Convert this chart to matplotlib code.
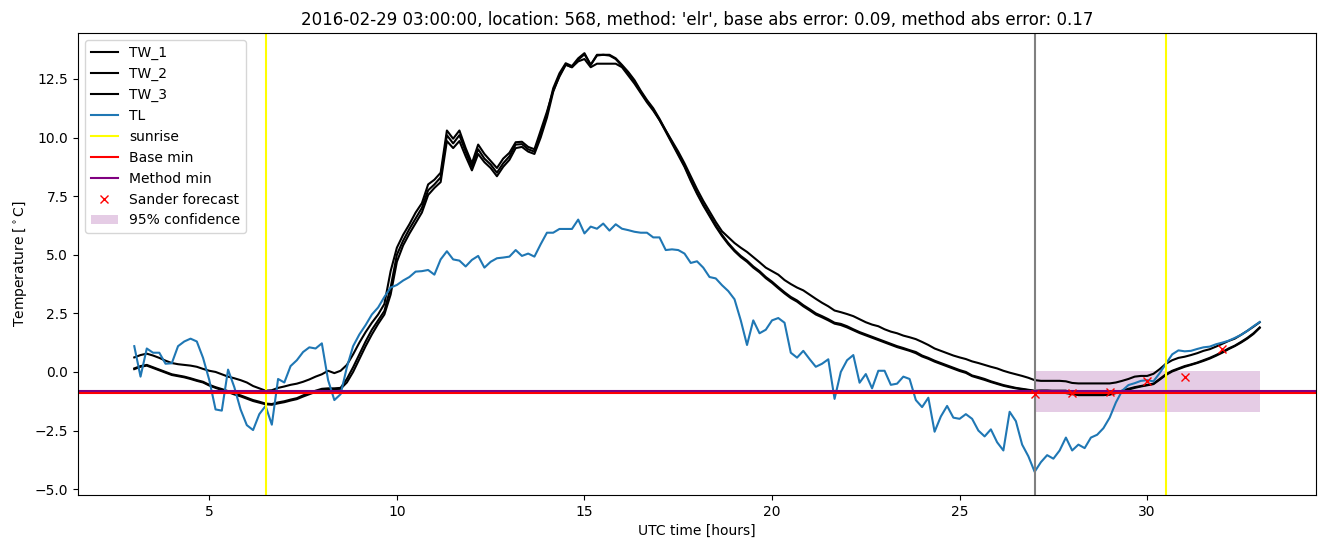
import numpy as np
import matplotlib
matplotlib.use("Agg")
import matplotlib.pyplot as plt

# ---- data (10-minute samples from 03:00 to 33:00 UTC hours) ----
start_hour = 3.0
step_hours = 1.0 / 6.0

TW_1 = [0.62, 0.72, 0.78, 0.7, 0.6, 0.48, 0.38, 0.33, 0.3, 0.27, 0.22, 0.13, 0.05, 0.0, -0.1, -0.2, -0.27, -0.35, -0.45, -0.6,
        -0.7, -0.8, -0.78, -0.68, -0.62, -0.55, -0.5, -0.42, -0.32, -0.2, -0.1, 0.05, -0.05, 0.05,
        0.3, 0.75, 1.25, 1.7, 2.1, 2.45, 2.9, 4.3, 5.3, 5.85, 6.3, 6.8, 7.2, 8.0, 8.2, 8.5,
        10.3, 9.95, 10.3, 9.55, 8.9, 9.7, 9.3, 9.0, 8.7, 9.1, 9.35, 9.8, 9.82, 9.6, 9.5, 10.3, 11.1, 12.0, 12.6, 13.1,
        13.0, 13.25, 13.35, 13.0, 13.15, 13.15, 13.15, 13.15, 13.0, 12.65, 12.3, 11.9, 11.5, 11.15, 10.75, 10.3, 9.85, 9.4, 8.9, 8.35,
        7.8, 7.3, 6.85, 6.4, 6.0, 5.75, 5.5, 5.3, 5.12, 4.9, 4.68, 4.45, 4.3, 4.15, 3.92, 3.75, 3.6, 3.48, 3.3, 3.12,
        2.95, 2.8, 2.62, 2.55, 2.47, 2.38, 2.25, 2.12, 2.02, 1.95, 1.82, 1.72, 1.65, 1.55, 1.48, 1.4, 1.28, 1.15, 1.0, 0.9,
        0.8, 0.7, 0.62, 0.55, 0.45, 0.38, 0.3, 0.22, 0.15, 0.05, -0.03, -0.1, -0.17, -0.25, -0.35, -0.38, -0.38, -0.38, -0.38, -0.4,
        -0.47, -0.49, -0.49, -0.49, -0.49, -0.49, -0.49, -0.45, -0.38, -0.3, -0.2, -0.17, -0.17, -0.08, 0.12, 0.35, 0.5, 0.6, 0.65, 0.72,
        0.8, 0.9, 0.97, 1.08, 1.2, 1.32, 1.42, 1.58, 1.75, 1.93, 2.12]

TW_2 = [0.15, 0.25, 0.3, 0.2, 0.1, 0.0, -0.1, -0.15, -0.2, -0.27, -0.35, -0.42, -0.55, -0.65, -0.73, -0.82, -0.92, -1.0, -1.1, -1.2,
        -1.27, -1.35, -1.37, -1.3, -1.25, -1.18, -1.12, -1.0, -0.9, -0.8, -0.72, -0.7, -0.7, -0.68,
        -0.3, 0.2, 0.75, 1.3, 1.8, 2.2, 2.6, 3.6, 5.0, 5.6, 6.1, 6.55, 7.0, 7.75, 8.0, 8.3,
        10.1, 9.75, 10.1, 9.4, 8.75, 9.5, 9.1, 8.85, 8.5, 8.9, 9.2, 9.7, 9.72, 9.5, 9.4, 10.15, 11.0, 12.1, 12.74, 13.17,
        13.05, 13.38, 13.6, 13.1, 13.53, 13.53, 13.53, 13.38, 13.1, 12.8, 12.45, 12.0, 11.6, 11.25, 10.8, 10.3, 9.8, 9.3, 8.8, 8.2,
        7.65, 7.15, 6.7, 6.25, 5.85, 5.5, 5.2, 4.95, 4.75, 4.5, 4.3, 4.05, 3.85, 3.62, 3.4, 3.2, 3.05, 2.85, 2.68, 2.5,
        2.38, 2.25, 2.1, 2.05, 1.95, 1.82, 1.7, 1.6, 1.5, 1.4, 1.3, 1.2, 1.1, 1.02, 0.93, 0.85, 0.7, 0.6, 0.48, 0.38,
        0.28, 0.18, 0.08, 0.0, -0.15, -0.22, -0.3, -0.4, -0.48, -0.56, -0.62, -0.68, -0.72, -0.76, -0.8, -0.8, -0.8, -0.82, -0.85, -0.9,
        -0.95, -0.97, -0.97, -0.97, -0.97, -0.97, -0.95, -0.88, -0.8, -0.72, -0.65, -0.6, -0.55, -0.5, -0.3, -0.1, 0.05, 0.15, 0.25, 0.32,
        0.4, 0.5, 0.6, 0.72, 0.85, 1.0, 1.12, 1.28, 1.45, 1.65, 1.9]

TW_3 = [0.12, 0.22, 0.27, 0.17, 0.07, -0.03, -0.13, -0.18, -0.23, -0.3, -0.38, -0.45, -0.58, -0.68, -0.77, -0.86, -0.96, -1.04, -1.14, -1.24,
        -1.31, -1.38, -1.4, -1.34, -1.29, -1.22, -1.16, -1.05, -0.95, -0.85, -0.76, -0.74, -0.73, -0.72,
        -0.45, 0.0, 0.55, 1.1, 1.6, 2.05, 2.45, 3.3, 4.7, 5.4, 5.9, 6.35, 6.8, 7.55, 7.85, 8.1,
        9.85, 9.55, 9.85, 9.2, 8.6, 9.3, 8.95, 8.7, 8.35, 8.75, 9.05, 9.55, 9.6, 9.4, 9.3, 10.0, 10.85, 11.95, 12.65, 13.12,
        13.0, 13.32, 13.55, 13.1, 13.5, 13.53, 13.5, 13.35, 13.05, 12.75, 12.4, 11.95, 11.55, 11.2, 10.75, 10.25, 9.75, 9.25, 8.75, 8.15,
        7.6, 7.1, 6.65, 6.2, 5.8, 5.45, 5.15, 4.9, 4.7, 4.45, 4.25, 4.0, 3.8, 3.57, 3.35, 3.15, 3.0, 2.8, 2.63, 2.45,
        2.33, 2.2, 2.06, 2.0, 1.9, 1.78, 1.66, 1.56, 1.46, 1.36, 1.26, 1.16, 1.06, 0.98, 0.9, 0.8, 0.66, 0.56, 0.44, 0.34,
        0.24, 0.14, 0.04, -0.04, -0.18, -0.26, -0.34, -0.43, -0.51, -0.59, -0.65, -0.7, -0.74, -0.78, -0.82, -0.8, -0.8, -0.8, -0.8, -0.8,
        -0.92, -0.99, -0.99, -0.99, -0.99, -0.99, -0.97, -0.9, -0.83, -0.75, -0.68, -0.62, -0.57, -0.52, -0.33, -0.13, 0.02, 0.12, 0.22, 0.3,
        0.38, 0.47, 0.57, 0.69, 0.82, 0.97, 1.1, 1.25, 1.42, 1.62, 1.88]

TL = [1.1, -0.2, 1.0, 0.82, 0.82, 0.35, 0.37, 1.1, 1.3, 1.42, 1.3, 0.6, -0.35, -1.6, -1.65, 0.1, -0.65, -1.6, -2.27, -2.48,
      -1.8, -1.45, -2.25, -0.3, -0.45, 0.25, 0.5, 0.85, 1.05, 1.0, 1.22, -0.35, -1.2, -0.95, 0.2, 1.1, 1.6, 2.0, 2.45, 2.75,
      3.2, 3.6, 3.71, 3.9, 4.05, 4.28, 4.3, 4.35, 4.15, 4.8, 5.15, 4.8, 4.75, 4.5, 4.78, 4.95, 4.45, 4.7, 4.85, 4.88,
      4.92, 5.2, 4.95, 5.05, 4.92, 5.45, 5.94, 5.94, 6.1, 6.1, 6.1, 6.5, 5.91, 6.2, 6.11, 6.33, 6.03, 6.3, 6.11, 6.05,
      5.98, 5.94, 5.94, 5.74, 5.74, 5.2, 5.23, 5.2, 5.05, 4.65, 4.72, 4.45, 4.05, 3.99, 3.7, 3.45, 3.1, 2.2, 1.15, 2.2,
      1.65, 1.8, 2.2, 2.3, 2.1, 0.82, 0.61, 0.9, 0.55, 0.22, 0.35, 0.54, -1.15, 0.0, 0.5, 0.72, -0.46, -0.09, -0.7, 0.05,
      0.05, -0.55, -0.5, -0.2, -0.3, -1.2, -1.5, -1.1, -2.55, -1.9, -1.45, -1.95, -2.0, -1.8, -2.0, -2.5, -2.75, -2.45, -3.0, -3.35,
      -1.7, -2.1, -3.1, -3.6, -4.26, -3.85, -3.55, -3.7, -3.35, -2.8, -3.35, -3.1, -3.25, -2.8, -2.68, -2.4, -1.95, -1.3, -0.8, -0.56,
      -0.48, -0.38, -0.35, -0.4, -0.05, 0.35, 0.75, 0.92, 0.88, 0.9, 0.98, 1.05, 1.08, 1.18, 1.25, 1.33, 1.45, 1.58, 1.75, 1.95,
      2.13]

sunrise_hours = [6.5, 30.5]
forecast_hour = 27.0
base_min = -0.89
method_min = -0.80
sander_hours = [27, 28, 29, 30, 31, 32]
sander_values = [-0.92, -0.91, -0.84, -0.39, -0.23, 1.0]
conf_hours = [27, 33]
conf_lower = [-1.7, -1.7]
conf_upper = [0.04, 0.04]

title = ("2016-02-29 03:00:00, location: 568, method: 'elr', "
         "base abs error: 0.09, method abs error: 0.17")

# ---- plot ----
t = start_hour + np.arange(len(TL)) * step_hours

fig = plt.figure(figsize=(13.26, 5.47), dpi=100)
ax = fig.add_axes([78 / 1326, 1 - 495 / 547, (1316 - 78) / 1326, (495 - 33) / 547])

ax.plot(t, TW_1, color="black", label="TW_1")
ax.plot(t, TW_2, color="black", label="TW_2")
ax.plot(t, TW_3, color="black", label="TW_3")
ax.plot(t, TL, color="tab:blue", label="TL")
for i, s in enumerate(sunrise_hours):
    ax.axvline(s, color="yellow", label="sunrise" if i == 0 else None)
ax.axvline(forecast_hour, color="grey")
ax.axhline(base_min, color="red", label="Base min")
ax.axhline(method_min, color="purple", label="Method min")
ax.plot(sander_hours, sander_values, "x", color="red", label="Sander forecast")
ax.fill_between(conf_hours, conf_lower, conf_upper, color="purple", alpha=0.2,
                linewidth=0, label="95% confidence")

ax.set_xlim(1.5, 34.5)
ax.set_ylim(-5.25, 14.46)
ax.set_xlabel("UTC time [hours]")
ax.set_ylabel(r"Temperature [$^\circ$C]")
ax.set_title(title)
ax.legend(loc="upper left")

fig.savefig("out.png", dpi=100)
